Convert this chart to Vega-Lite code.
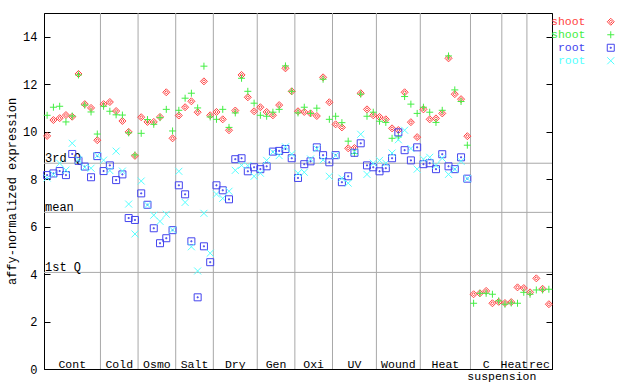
{
  "$schema": "https://vega.github.io/schema/vega-lite/v6.json",
  "width": 508,
  "height": 356,
  "autosize": "none",
  "padding": {"left": 44, "top": 13, "right": 88, "bottom": 15},
  "background": "white",
  "config": {
    "font": "Liberation Mono",
    "view": {"stroke": "black", "strokeWidth": 1},
    "axis": {"labelFont": "Liberation Mono", "titleFont": "Liberation Mono", "labelFontSize": 12, "titleFontSize": 12, "titleFontWeight": "normal", "labelColor": "black", "titleColor": "black", "domainColor": "black", "tickColor": "black", "grid": false},
    "legend": {"labelFont": "Liberation Mono", "labelFontSize": 11.5}
  },
  "datasets": {
    "expr": [
      {"i":1,"shoot1":9.82,"shoot2":10.69,"root1":8.17,"root2":8.05},
      {"i":2,"shoot1":10.49,"shoot2":11.03,"root1":8.24,"root2":8.2},
      {"i":3,"shoot1":10.57,"shoot2":11.07,"root1":8.34,"root2":8.67},
      {"i":4,"shoot1":10.7,"shoot2":10.41,"root1":8.17,"root2":8.38},
      {"i":5,"shoot1":10.63,"shoot2":10.66,"root1":9.06,"root2":9.51},
      {"i":6,"shoot1":12.43,"shoot2":12.39,"root1":8.77,"root2":8.81},
      {"i":7,"shoot1":11.16,"shoot2":11.12,"root1":8.53,"root2":8.5},
      {"i":8,"shoot1":11.0,"shoot2":10.83,"root1":8.08,"root2":8.46},
      {"i":9,"shoot1":9.64,"shoot2":9.9,"root1":8.97,"root2":8.99},
      {"i":10,"shoot1":11.16,"shoot2":11.07,"root1":8.34,"root2":8.8},
      {"i":11,"shoot1":11.25,"shoot2":10.86,"root1":8.58,"root2":8.36},
      {"i":12,"shoot1":10.87,"shoot2":10.71,"root1":7.96,"root2":9.18},
      {"i":13,"shoot1":10.45,"shoot2":10.7,"root1":8.2,"root2":8.34},
      {"i":14,"shoot1":9.99,"shoot2":9.95,"root1":6.36,"root2":6.95},
      {"i":15,"shoot1":8.98,"shoot2":9.02,"root1":6.28,"root2":5.69},
      {"i":16,"shoot1":10.61,"shoot2":9.93,"root1":7.4,"root2":7.92},
      {"i":17,"shoot1":10.41,"shoot2":10.51,"root1":6.92,"root2":6.91},
      {"i":18,"shoot1":10.41,"shoot2":10.31,"root1":5.93,"root2":6.48},
      {"i":19,"shoot1":10.62,"shoot2":10.59,"root1":5.3,"root2":6.22},
      {"i":20,"shoot1":11.66,"shoot2":10.94,"root1":5.51,"root2":6.52},
      {"i":21,"shoot1":9.72,"shoot2":10.03,"root1":5.85,"root2":5.86},
      {"i":22,"shoot1":10.68,"shoot2":10.9,"root1":7.74,"root2":8.33},
      {"i":23,"shoot1":11.03,"shoot2":11.41,"root1":7.36,"root2":7.02},
      {"i":24,"shoot1":11.28,"shoot2":11.62,"root1":5.38,"root2":5.15},
      {"i":25,"shoot1":10.82,"shoot2":11.0,"root1":3.02,"root2":4.13},
      {"i":26,"shoot1":12.12,"shoot2":12.76,"root1":5.17,"root2":6.56},
      {"i":27,"shoot1":10.69,"shoot2":10.62,"root1":4.5,"root2":4.88},
      {"i":28,"shoot1":10.83,"shoot2":10.52,"root1":7.74,"root2":7.37},
      {"i":29,"shoot1":10.52,"shoot2":10.94,"root1":7.53,"root2":7.19},
      {"i":30,"shoot1":10.06,"shoot2":10.18,"root1":7.15,"root2":7.49},
      {"i":31,"shoot1":10.89,"shoot2":10.79,"root1":8.84,"root2":8.37},
      {"i":32,"shoot1":12.39,"shoot2":12.25,"root1":8.88,"root2":8.58},
      {"i":33,"shoot1":11.45,"shoot2":11.7,"root1":8.33,"root2":8.57},
      {"i":34,"shoot1":10.86,"shoot2":11.2,"root1":8.5,"root2":8.12},
      {"i":35,"shoot1":11.03,"shoot2":10.69,"root1":8.42,"root2":8.25},
      {"i":36,"shoot1":10.83,"shoot2":10.65,"root1":8.54,"root2":8.79},
      {"i":37,"shoot1":10.69,"shoot2":10.82,"root1":9.16,"root2":9.14},
      {"i":38,"shoot1":11.12,"shoot2":10.94,"root1":9.19,"root2":8.99},
      {"i":39,"shoot1":12.67,"shoot2":12.77,"root1":9.27,"root2":9.36},
      {"i":40,"shoot1":11.7,"shoot2":11.7,"root1":8.88,"root2":9.06},
      {"i":41,"shoot1":10.86,"shoot2":10.79,"root1":8.05,"root2":8.25},
      {"i":42,"shoot1":10.83,"shoot2":11.03,"root1":8.63,"root2":8.29},
      {"i":43,"shoot1":10.77,"shoot2":10.77,"root1":8.75,"root2":8.85},
      {"i":44,"shoot1":10.66,"shoot2":10.99,"root1":9.34,"root2":9.28},
      {"i":45,"shoot1":12.29,"shoot2":12.21,"root1":9.01,"root2":8.81},
      {"i":46,"shoot1":11.24,"shoot2":10.52,"root1":8.71,"root2":8.12},
      {"i":47,"shoot1":10.31,"shoot2":10.65,"root1":9.01,"root2":9.0},
      {"i":48,"shoot1":10.18,"shoot2":10.38,"root1":7.87,"root2":8.04},
      {"i":49,"shoot1":9.3,"shoot2":9.6,"root1":8.12,"root2":7.83},
      {"i":50,"shoot1":9.31,"shoot2":9.08,"root1":9.11,"root2":9.15},
      {"i":51,"shoot1":11.62,"shoot2":11.58,"root1":9.51,"root2":9.89},
      {"i":52,"shoot1":10.94,"shoot2":10.65,"root1":8.58,"root2":8.2},
      {"i":53,"shoot1":10.69,"shoot2":10.82,"root1":8.5,"root2":8.67},
      {"i":54,"shoot1":10.62,"shoot2":10.44,"root1":8.33,"root2":8.79},
      {"i":55,"shoot1":10.52,"shoot2":10.39,"root1":8.46,"root2":8.67},
      {"i":56,"shoot1":10.14,"shoot2":9.72,"root1":8.88,"root2":9.1},
      {"i":57,"shoot1":10.07,"shoot2":9.78,"root1":9.97,"root2":9.66},
      {"i":58,"shoot1":11.66,"shoot2":11.48,"root1":9.22,"root2":10.06},
      {"i":59,"shoot1":10.4,"shoot2":11.16,"root1":8.79,"root2":9.29},
      {"i":60,"shoot1":9.77,"shoot2":10.77,"root1":9.34,"root2":8.42},
      {"i":61,"shoot1":10.94,"shoot2":11.03,"root1":8.63,"root2":8.84},
      {"i":62,"shoot1":10.52,"shoot2":10.82,"root1":8.67,"root2":8.92},
      {"i":63,"shoot1":10.56,"shoot2":10.39,"root1":8.42,"root2":8.58},
      {"i":64,"shoot1":10.77,"shoot2":10.9,"root1":9.05,"root2":8.88},
      {"i":65,"shoot1":13.09,"shoot2":13.19,"root1":8.54,"root2":8.2},
      {"i":66,"shoot1":11.58,"shoot2":11.76,"root1":8.42,"root2":8.42},
      {"i":67,"shoot1":11.37,"shoot2":11.27,"root1":8.92,"root2":8.75},
      {"i":68,"shoot1":9.81,"shoot2":9.43,"root1":8.02,"root2":8.02},
      {"i":69,"shoot1":3.15,"shoot2":2.77},
      {"i":70,"shoot1":3.19,"shoot2":3.19},
      {"i":71,"shoot1":3.29,"shoot2":3.19},
      {"i":72,"shoot1":2.77,"shoot2":3.15},
      {"i":73,"shoot1":2.83,"shoot2":2.87},
      {"i":74,"shoot1":2.78,"shoot2":2.73},
      {"i":75,"shoot1":2.82,"shoot2":2.78},
      {"i":76,"shoot1":3.44,"shoot2":2.77},
      {"i":77,"shoot1":3.41,"shoot2":3.23},
      {"i":78,"shoot1":3.23,"shoot2":3.15},
      {"i":79,"shoot1":3.82,"shoot2":3.33},
      {"i":80,"shoot1":3.38,"shoot2":3.33},
      {"i":81,"shoot1":2.73,"shoot2":3.36}
    ],
    "quart": [
      {"q": "3rd Q", "v": 8.67},
      {"q": "mean", "v": 6.6},
      {"q": "1st Q", "v": 4.07}
    ],
    "bounds": [
      {"b": 9.5}, {"b": 15.5}, {"b": 21.5}, {"b": 27.5}, {"b": 34.5}, {"b": 40.5},
      {"b": 46.5}, {"b": 53.5}, {"b": 60.5}, {"b": 68.5}, {"b": 73.5}, {"b": 77.5}
    ],
    "groups": [
      {"g": "Cont", "c": 5}, {"g": "Cold", "c": 12.5}, {"g": "Osmo", "c": 18.5},
      {"g": "Salt", "c": 24.5}, {"g": "Dry", "c": 31}, {"g": "Gen", "c": 37.5},
      {"g": "Oxi", "c": 43.5}, {"g": "UV", "c": 50}, {"g": "Wound", "c": 57},
      {"g": "Heat", "c": 64.5}, {"g": "C", "c": 71}, {"g": "Heat", "c": 75.5},
      {"g": "rec", "c": 79.5}
    ],
    "groups2": [
      {"g": "suspension", "c": 73.5}
    ]
  },
  "layer": [
    {
      "data": {"name": "bounds"},
      "mark": {"type": "rule", "color": "#a8a8a8", "strokeWidth": 1},
      "encoding": {
        "x": {
          "field": "b", "type": "quantitative",
          "scale": {"domain": [0.5, 81.5], "nice": false, "zero": false},
          "axis": null
        }
      }
    },
    {
      "data": {"name": "quart"},
      "mark": {"type": "rule", "color": "#a8a8a8", "strokeWidth": 1},
      "encoding": {
        "y": {
          "field": "v", "type": "quantitative",
          "scale": {"domain": [0, 15], "nice": false, "zero": true},
          "axis": {
            "orient": "left",
            "values": [0, 2, 4, 6, 8, 10, 12, 14],
            "tickSize": -6,
            "labelPadding": 13,
            "title": "affy-normalized expression",
            "titlePadding": 4
          }
        }
      }
    },
    {
      "data": {"name": "quart"},
      "mark": {"type": "text", "align": "left", "baseline": "alphabetic", "dx": 1, "dy": -1, "fontSize": 12, "color": "black"},
      "encoding": {
        "x": {"datum": 0.5, "type": "quantitative", "axis": null},
        "y": {"field": "v", "type": "quantitative", "axis": null},
        "text": {"field": "q"}
      }
    },
    {
      "data": {"name": "groups"},
      "mark": {"type": "text", "align": "center", "baseline": "alphabetic", "dy": -1, "fontSize": 11.5, "color": "black"},
      "encoding": {
        "x": {"field": "c", "type": "quantitative", "axis": null},
        "y": {"datum": 0, "type": "quantitative", "axis": null},
        "text": {"field": "g"}
      }
    },
    {
      "data": {"name": "groups2"},
      "mark": {"type": "text", "align": "center", "baseline": "alphabetic", "dy": 11, "fontSize": 11.5, "color": "black"},
      "encoding": {
        "x": {"field": "c", "type": "quantitative", "axis": null},
        "y": {"datum": 0, "type": "quantitative", "axis": null},
        "text": {"field": "g"}
      }
    },
    {
      "data": {"name": "quart"},
      "mark": {"type": "rule", "opacity": 0},
      "encoding": {
        "y": {
          "field": "v", "type": "quantitative",
          "axis": {
            "orient": "right",
            "values": [0, 2, 4, 6, 8, 10, 12, 14],
            "tickSize": -6,
            "labels": false,
            "title": null
          }
        }
      }
    },
    {
      "data": {"name": "expr"},
      "transform": [
        {"fold": ["shoot1", "shoot2", "root1", "root2"], "as": ["series", "value"]},
        {"filter": "isValid(datum.value)"}
      ],
      "mark": {"type": "point", "filled": false, "size": 49, "strokeWidth": 1, "opacity": 1},
      "encoding": {
        "x": {"field": "i", "type": "quantitative", "axis": null},
        "y": {"field": "value", "type": "quantitative", "axis": null},
        "color": {
          "field": "series", "type": "nominal",
          "scale": {"domain": ["shoot1", "shoot2", "root1", "root2"], "range": ["#ff4444", "#44ee44", "#4444ee", "#55ffff"]},
          "legend": {
            "orient": "none", "legendX": 561, "legendY": 3, "title": null, "padding": 0,
            "labelExpr": "slice(datum.label, 0, -1)",
            "labelAlign": "right", "labelOffset": -31, "labelFontSize": 11.5,
            "labelColor": {"expr": "datum.value == 'shoot1' ? '#ff4444' : datum.value == 'shoot2' ? '#44ee44' : datum.value == 'root1' ? '#4444ee' : '#55ffff'"},
            "symbolSize": 49, "symbolStrokeWidth": 1, "rowPadding": 0
          }
        },
        "shape": {
          "field": "series", "type": "nominal",
          "scale": {"domain": ["shoot1", "shoot2", "root1", "root2"], "range": ["M0,-1L1,0L0,1L-1,0Z M0,-0.45L0.45,0L0,0.45L-0.45,0Z", "M-1,0H1M0,-1V1", "M-1,-1H1V1H-1Z M-0.15,-0.15H0.15V0.15H-0.15Z", "M-1,-1L1,1M-1,1L1,-1"]},
          "legend": {
            "orient": "none", "legendX": 561, "legendY": 3, "title": null, "padding": 0,
            "labelExpr": "slice(datum.label, 0, -1)",
            "labelAlign": "right", "labelOffset": -31, "labelFontSize": 11.5,
            "labelColor": {"expr": "datum.value == 'shoot1' ? '#ff4444' : datum.value == 'shoot2' ? '#44ee44' : datum.value == 'root1' ? '#4444ee' : '#55ffff'"},
            "symbolSize": 49, "symbolStrokeWidth": 1, "rowPadding": 0
          }
        }
      }
    }
  ],
  "resolve": {"axis": {"y": "independent"}}
}
